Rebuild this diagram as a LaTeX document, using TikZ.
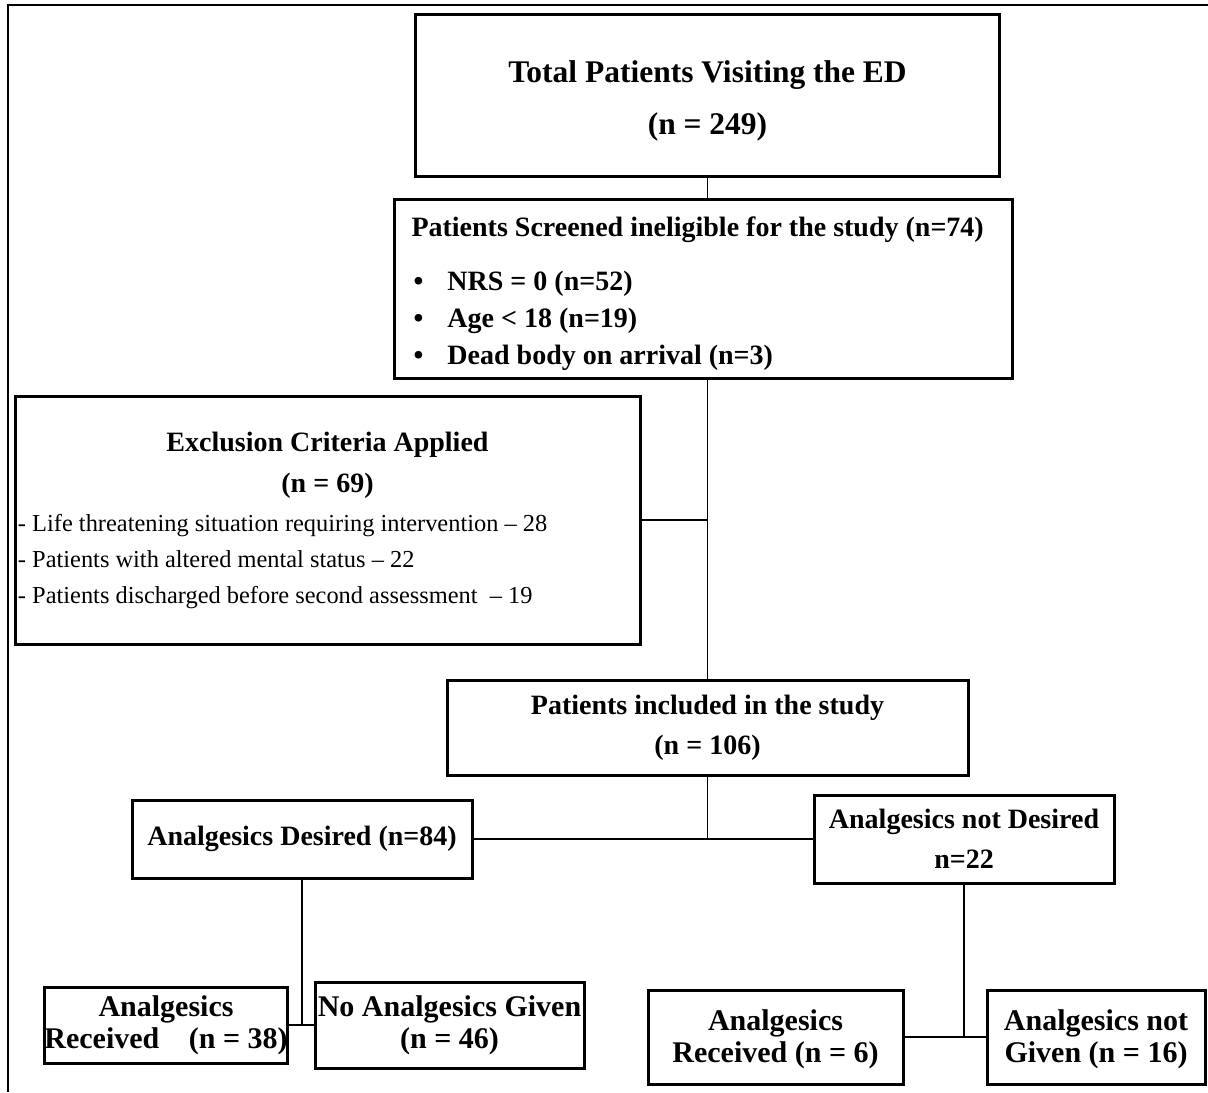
\documentclass[tikz,border=0pt]{standalone}
\usepackage{fontspec}
\setmainfont{Liberation Serif}
\usepackage{tikz}

\begin{document}
\begin{tikzpicture}[x=0.5pt,y=-0.5pt,
 box/.style={draw,line width=1.5pt,align=center,inner sep=0pt,font=\bfseries\fontsize{14}{20}\selectfont},
 low/.style={box,font=\bfseries\fontsize{15}{16}\selectfont},
 link/.style={line width=0.8pt}]
\useasboundingbox (0,0) rectangle (1208,1092);
\draw[line width=1pt] (8,1092) -- (8,5) -- (1208,5);
\node[box,minimum width=292pt,minimum height=81pt,font=\bfseries\fontsize{15.75}{26}\selectfont](total) at (707.5,95){\rule{0pt}{17pt}Total Patients Visiting the ED\\(n = 249)};
\node[box,align=flush left,text width=292pt,inner xsep=8.5pt,minimum height=89.5pt,font=\bfseries\fontsize{14}{18.5}\selectfont](screen) at (703.5,288.5){\rule{0pt}{15.5pt}Patients Screened ineligible for the study (n=74)\\[8.5pt]
 \hspace*{1pt}\makebox[17pt][l]{\textbullet}NRS = 0 (n=52)\\
 \hspace*{1pt}\makebox[17pt][l]{\textbullet}Age < 18 (n=19)\\
 \hspace*{1pt}\makebox[17pt][l]{\textbullet}Dead body on arrival (n=3)};
\node[box,align=flush left,text width=309.5pt,inner xsep=1.5pt,minimum height=124pt,font=\fontsize{12.2}{18}\selectfont](excl) at (327.5,520){\hfill\textbf{\fontsize{14}{18}\selectfont Exclusion Criteria Applied}\hfill\null\\[2.5pt]
 \hfill\textbf{\fontsize{14}{18}\selectfont (n = 69)}\hfill\null\\[1.5pt]
 - Life threatening situation requiring intervention – 28\\
 - Patients with altered mental status – 22\\
 - Patients discharged before second assessment~ – 19};
\node[box,minimum width=260.5pt,minimum height=47.5pt](incl) at (707.5,727.5){Patients included in the study\\(n = 106)};
\node[box,minimum width=170pt,minimum height=39pt](desired) at (302,839){Analgesics Desired (n=84)};
\node[box,minimum width=150pt,minimum height=44pt](notdes) at (964,839){Analgesics not Desired\\n=22};
\node[low,minimum width=121pt,minimum height=38pt](rec38) at (166,1025){Analgesics\\Received\hspace{11pt} (n = 38)};
\node[low,minimum width=134.5pt,minimum height=43pt](nogive) at (449.5,1025){No Analgesics Given\\(n = 46)};
\node[low,minimum width=127.5pt,minimum height=47pt](rec6) at (775.5,1037){\rule{0pt}{13pt}Analgesics\\Received (n = 6)};
\node[low,minimum width=109pt,minimum height=47pt](notgiven) at (1096,1037){\rule{0pt}{13pt}Analgesics not\\Given (n = 16)};
\draw[link] (total.south) -- (total.south |- screen.north);
\draw[link] (incl.north |- screen.south) -- (incl.north);
\draw[link] (excl.east) -- (excl.east -| incl.north);
\draw[link] (incl.south) -- (incl.south |- desired.east);
\draw[link] (desired.south) -- (desired.south |- rec38.east);
\draw[link] (notdes.south) -- (notdes.south |- rec6.east);
\foreach \from/\to in {desired.east/notdes.west,rec38.east/nogive.west,rec6.east/notgiven.west}
 \draw[link] (\from) -- (\to);
\end{tikzpicture}
\end{document}
